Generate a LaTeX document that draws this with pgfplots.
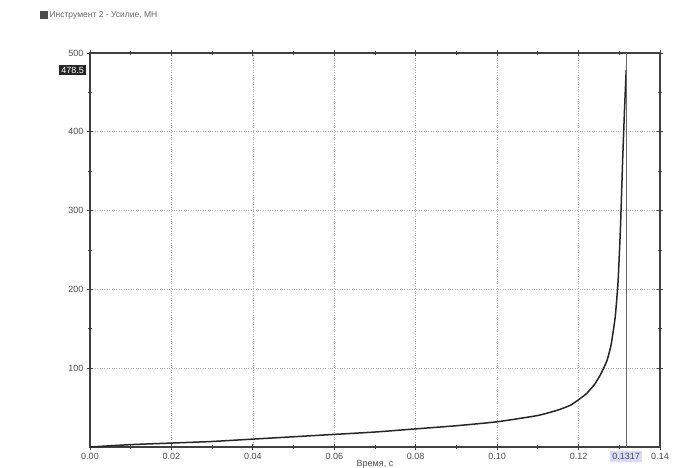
\documentclass[border=0pt]{standalone}
\usepackage{pgfplots}
\pgfplotsset{compat=1.18}
\usepackage{fontspec}
\setmainfont{Liberation Sans}
\begin{document}
\begin{tikzpicture}[x=1pt,y=1pt]
\useasboundingbox (0,0) rectangle (681,468);
\begin{axis}[
  at={(90pt,21pt)}, anchor=south west,
  scale only axis, width=570pt, height=394pt,
  xmin=0, xmax=0.14, ymin=0, ymax=500,
  xtick={0,0.02,...,0.14}, ytick={100,200,300,400,500},
  minor x tick num=1, minor y tick num=1,
  tick align=center,
  major tick length=6pt, minor tick length=4pt,
  tick style={black!75, line width=0.8pt},
  axis line style={black!75, line width=1.2pt},
  grid=major,
  major grid style={black!30, dotted, line width=0.7pt},
  xticklabel style={/pgf/number format/.cd, fixed, fixed zerofill, precision=2},
  /pgf/number format/assume math mode=true,
  ticklabel style={font=\fontsize{9}{10}\selectfont, text=black!70},
  scaled x ticks=false,
  xlabel={Время, с},
  xlabel style={font=\fontsize{9}{10}\selectfont, text=black!70, yshift=6pt},
  legend style={at={(-0.088,1.096)}, anchor=west, draw=none, fill=none,
    font=\fontsize{8.5}{10}\selectfont, text=black!60, inner sep=0pt},
  legend image code/.code={\fill[black!70] (0pt,-3pt) rectangle (6pt,3pt);},
  clip=false,
]
\addplot[black!85, line width=1.5pt, smooth, tension=0.3] coordinates {
  (0,0) (0.01,3) (0.02,5) (0.03,7) (0.04,10) (0.05,13) (0.06,16)
  (0.07,19) (0.08,23) (0.09,27) (0.10,32) (0.11,40) (0.115,47)
  (0.118,53) (0.12,60) (0.122,68) (0.124,80) (0.1255,93) (0.127,110)
  (0.128,130) (0.129,165) (0.1297,210) (0.1303,280) (0.1308,360)
  (0.1313,430) (0.1317,478.5)
};
\addlegendentry{Инструмент 2 - Усилие, МН}
\addplot[black!60, line width=1.2pt, forget plot] coordinates {(0.1317,0) (0.1317,500)};
\node[fill=black!85, text=white, font=\fontsize{9}{10}\selectfont, inner sep=2pt, anchor=east, xshift=-4pt]
  at (axis cs:0,478.5) {478.5};
\node[fill=blue!15, text=black!70, font=\fontsize{9}{10}\selectfont, inner sep=2pt, anchor=north, yshift=-4pt]
  at (axis cs:0.1317,0) {0.1317};
\end{axis}
\end{tikzpicture}
\end{document}
